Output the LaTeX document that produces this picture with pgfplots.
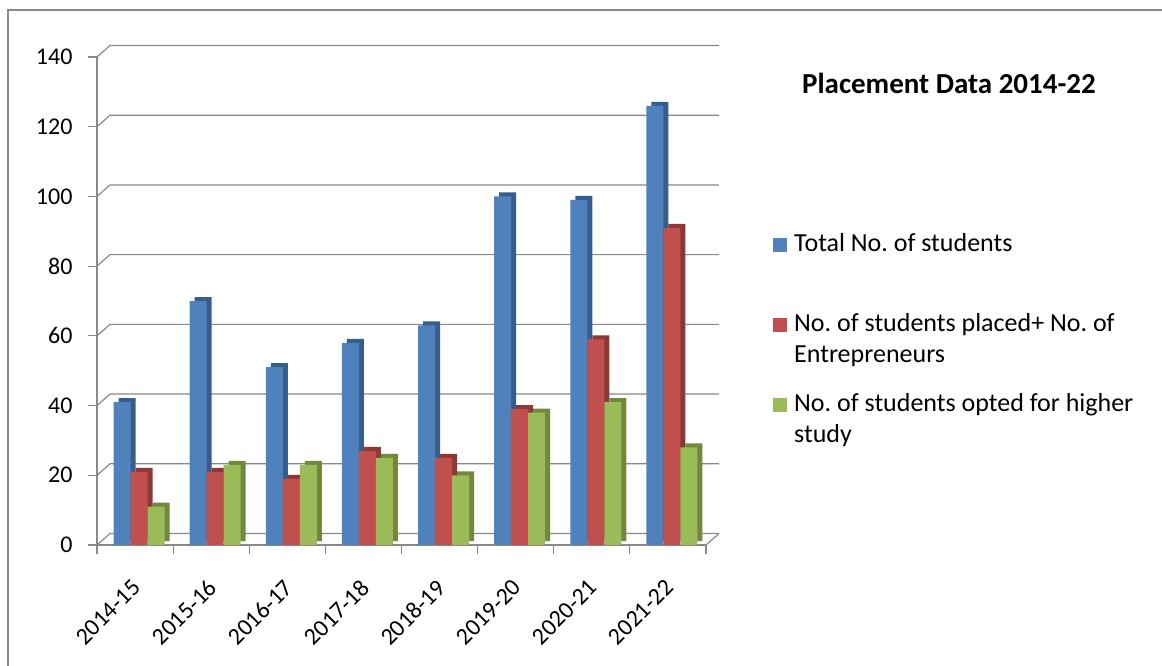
\documentclass[border=0pt]{standalone}
\usepackage{fontspec}
\setmainfont{Carlito}
\usepackage{pgfplots}
\usepackage{pgfplotstable}
\pgfplotsset{compat=1.18}
\definecolor{cblue}{HTML}{4F81BD}
\definecolor{cbluedk}{HTML}{385D8A}
\definecolor{cred}{HTML}{C0504D}
\definecolor{creddk}{HTML}{8C3836}
\definecolor{cgreen}{HTML}{9BBB59}
\definecolor{cgreendk}{HTML}{71893F}
\definecolor{gridc}{HTML}{898989}
\pgfplotsset{sqleg/.style={legend image code/.code={\fill[##1] (0pt,-1pt) rectangle (14pt,13pt);}}}

\pgfplotstableread{
x total placed higher
0 41 21 11
1 70 21 23
2 51 19 23
3 58 27 25
4 63 25 20
5 100 39 38
6 99 59 41
7 126 91 28
}\datatable

\begin{document}
\frenchspacing
\begin{tikzpicture}[x=1pt,y=1pt]
\useasboundingbox (0,0) rectangle (1162,665);
\draw[gridc, line width=1.2pt] (8,-20) -- (8,655) -- (1180,655);
\node[font=\fontsize{29}{34}\selectfont\bfseries] at (949,582) {Placement Data 2014-22};
\begin{axis}[
  at={(97pt,120pt)}, anchor=south west,
  scale only axis, width=609pt, height=488pt,
  xmin=-0.5, xmax=7.5, ymin=0, ymax=140,
  clip=false,
  axis x line*=bottom, axis y line*=left,
  axis line style={gridc, line width=1.2pt, -},
  tick style={gridc, line width=1.2pt},
  tick align=outside,
  major tick length=9pt,
  ytick={0,20,...,140},
  xtick={-0.5,0.5,...,7.5},
  xticklabels={},
  extra x ticks={0,...,7},
  extra x tick labels={2014-15,2015-16,2016-17,2017-18,2018-19,2019-20,2020-21,2021-22},
  extra x tick style={major tick length=0pt, tick style={draw=none},
     xticklabel style={rotate=45, anchor=north east, xshift=-23pt, yshift=-17pt}},
  ticklabel style={font=\fontsize{24}{28}\selectfont},
  /pgf/number format/assume math mode=true,
  yticklabel style={xshift=-12pt},
  legend style={draw=none, fill=none, at={(1.110,0.647)}, anchor=north west,
     inner sep=0pt, row sep=18pt, /tikz/column sep=7pt,
     font=\fontsize{26}{31}\selectfont,
     nodes={inner sep=0pt, text depth=, text height=},
     cells={anchor=base west}},
]
\pgfplotsinvokeforeach{0,20,40,60,80,100,120,140}{
  \draw[gridc, line width=1.2pt] (axis cs:-0.5,#1) -- ++(13pt,11.5pt) -- ([shift={(13pt,11.5pt)}]axis cs:7.5,#1);
}
\draw[gridc, line width=1.2pt] (axis cs:7.5,0) -- ++(13pt,11.5pt);

\addplot[ybar, bar width=17pt, bar shift=-8pt, fill=cbluedk, draw=none, forget plot, yshift=4pt]
  table[x=x,y=total]{\datatable};
\addplot[ybar, bar width=17pt, bar shift=-13pt, fill=cblue, draw=none, sqleg]
  table[x=x,y=total]{\datatable};
\addlegendentry{\parbox[t]{370pt}{\strut Total No. of students\\\strut}}

\addplot[ybar, bar width=17pt, bar shift=9pt, fill=creddk, draw=none, forget plot, yshift=4pt]
  table[x=x,y=placed]{\datatable};
\addplot[ybar, bar width=17pt, bar shift=4pt, fill=cred, draw=none, sqleg]
  table[x=x,y=placed]{\datatable};
\addlegendentry{\parbox[t]{370pt}{\strut No. of students placed+ No. of\\\strut Entrepreneurs}}

\addplot[ybar, bar width=17pt, bar shift=26pt, fill=cgreendk, draw=none, forget plot, yshift=4pt]
  table[x=x,y=higher]{\datatable};
\addplot[ybar, bar width=17pt, bar shift=21pt, fill=cgreen, draw=none, sqleg]
  table[x=x,y=higher]{\datatable};
\addlegendentry{\parbox[t]{370pt}{\strut No. of students opted for higher\\\strut study}}
\end{axis}
\end{tikzpicture}
\end{document}
